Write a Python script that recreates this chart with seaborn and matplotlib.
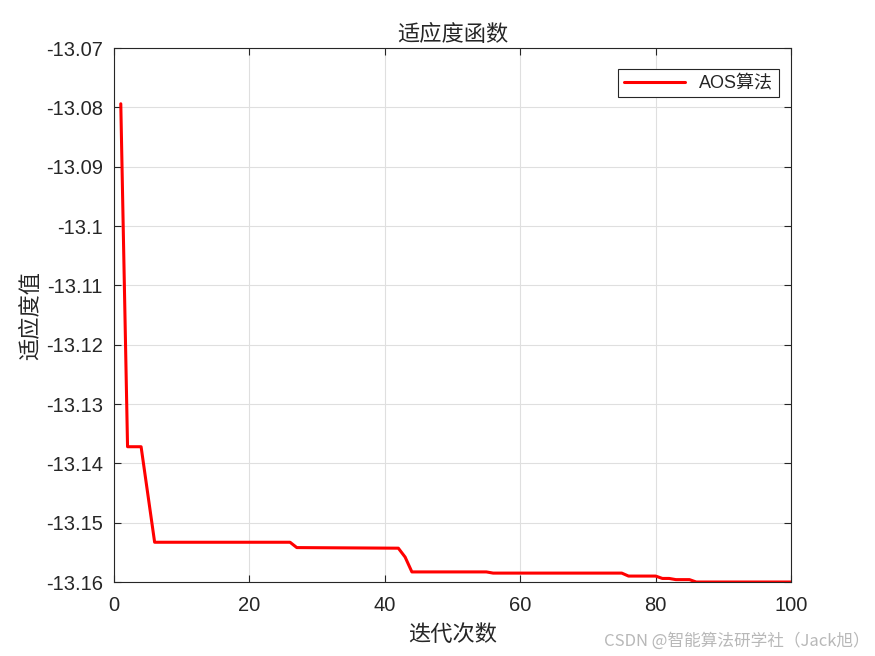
import matplotlib
matplotlib.use("Agg")
import matplotlib.pyplot as plt
import seaborn as sns
import pandas as pd
from matplotlib.ticker import FuncFormatter

# Data (breakpoints of the convergence curve)
iterations = [1, 2, 4, 6, 26, 27, 42, 43, 44, 55, 56, 75, 76, 80, 81, 82, 83, 85, 86, 100]
fitness = [-13.0794, -13.1372, -13.1372, -13.1533, -13.1533, -13.1542, -13.1543, -13.1558,
           -13.1583, -13.1583, -13.1585, -13.1585, -13.1590, -13.1590, -13.1594, -13.1594,
           -13.1596, -13.1596, -13.1600, -13.1600]
series_name = "AOS算法"
x_ticks = [0, 20, 40, 60, 80, 100]
y_ticks = [-13.07, -13.08, -13.09, -13.10, -13.11, -13.12, -13.13, -13.14, -13.15, -13.16]

sns.set_style("white")
plt.rcParams['font.family'] = ['Liberation Sans', 'Noto Sans CJK SC', 'DejaVu Sans']
plt.rcParams['axes.unicode_minus'] = False

df = pd.DataFrame({"iter": iterations, "fit": fitness, "name": series_name})

fig = plt.figure(figsize=(8.75, 6.56), dpi=100)
ax = fig.add_axes([0.1303, 0.1128, 0.7737, 0.814])

sns.lineplot(data=df, x="iter", y="fit", hue="name", palette=["#ff0000"],
             linewidth=2.2, ax=ax, legend=True)

ax.set_xlim(0, 100)
ax.set_ylim(-13.16, -13.07)
ax.set_xticks(x_ticks)
ax.set_yticks(y_ticks)
ax.yaxis.set_major_formatter(FuncFormatter(lambda v, p: "%g" % round(v, 4)))
ax.tick_params(direction='in', length=5, width=0.8, labelsize=14.5, colors='#262626',
               top=True, right=True, bottom=True, left=True, pad=8)
ax.tick_params(axis='x', pad=10)
for lbl in ax.get_xticklabels() + ax.get_yticklabels():
    lbl.set_color('#262626')
ax.grid(True, color='#dfdfdf', linewidth=0.8)
for s in ax.spines.values():
    s.set_color('#262626')
    s.set_linewidth(0.8)

cjk = ['Noto Sans CJK SC', 'DejaVu Sans']
ax.set_title("适应度函数", fontsize=16, family=cjk, color='#262626', pad=5)
ax.set_xlabel("迭代次数", fontsize=16, family=cjk, color='#262626', labelpad=6)
ax.set_ylabel("适应度值", fontsize=16, family=cjk, color='#262626', labelpad=3)

leg = ax.legend(loc='upper right', bbox_to_anchor=(0.99, 0.97), fancybox=False,
                framealpha=1, edgecolor='#262626', handlelength=3.4,
                borderpad=0.3, handletextpad=0.8, borderaxespad=0.3,
                prop={'family': ['Liberation Sans', 'Noto Sans CJK SC'], 'size': 13})
leg.get_frame().set_linewidth(0.8)

fig.text(0.994, 0.01, "CSDN @智能算法研学社（Jack旭）", ha='right', va='bottom',
         fontsize=12, color='#b8b8b8', family=cjk)

fig.savefig("out.png", dpi=100, facecolor='white')
